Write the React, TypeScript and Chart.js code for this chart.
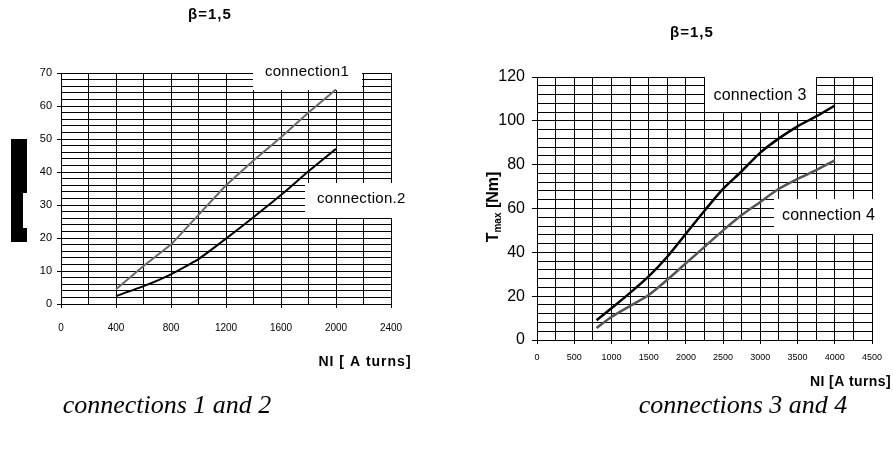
import React, { useEffect, useRef } from 'react';
import { Chart, registerables } from 'chart.js';

Chart.register(...registerables);

// ---- data ----
const niLeft = [400, 600, 800, 1000, 1200, 1400, 1600, 1800, 2000];
const connection1 = [4.5, 11.5, 18, 27, 36, 43.5, 50.5, 58, 65];
const connection2 = [2.4, 5.4, 9, 13.6, 19.8, 26.3, 33, 40.2, 47];

const niRight = [800, 1000, 1250, 1500, 1750, 2000, 2250, 2500, 2750, 3000, 3250, 3500, 3750, 4000];
const connection3 = [9, 14.5, 21.5, 29, 38, 48.5, 59, 69, 77, 85.5, 92, 97.5, 102, 107];
const connection4 = [5.5, 10.5, 15.5, 20.5, 27.5, 35, 42.5, 50, 57, 63, 69, 73.5, 77.5, 82];

const xLabelsLeft = [0, 400, 800, 1200, 1600, 2000, 2400];
const yLabelsLeft = [0, 10, 20, 30, 40, 50, 60, 70];
const xLabelsRight = [0, 500, 1000, 1500, 2000, 2500, 3000, 3500, 4000, 4500];
const yLabelsRight = [0, 20, 40, 60, 80, 100, 120];

const SANS = "'Liberation Sans', Arial, sans-serif";
const SERIF = "'Liberation Serif', 'Times New Roman', serif";

function pts(xs: number[], ys: number[]) {
  return xs.map((x, i) => ({ x, y: ys[i] }));
}

function tickCol(labels: number[]) {
  return (c: any) => (c.tick && labels.includes(c.tick.value) ? '#000' : 'rgba(0,0,0,0)');
}

function setSpacing(ctx: any, v: string) {
  try {
    ctx.letterSpacing = v;
  } catch (e) {
    /* ignore */
  }
}

function leftConfig(): any {
  const deco = {
    id: 'decoLeft',
    beforeDatasetsDraw(chart: any) {
      const ctx = chart.ctx;
      ctx.save();
      ctx.fillStyle = '#fff';
      ctx.fillRect(253, 62, 109, 28);
      ctx.fillRect(305, 183, 108, 35);
      ctx.fillStyle = '#000';
      ctx.textBaseline = 'middle';
      ctx.font = `15px ${SANS}`;
      setSpacing(ctx, '0.3px');
      ctx.textAlign = 'center';
      ctx.fillText('connection1', 307, 72);
      ctx.textAlign = 'left';
      ctx.fillText('connection.2', 317, 199);
      setSpacing(ctx, '0px');
      ctx.restore();
    },
    afterDraw(chart: any) {
      const ctx = chart.ctx;
      ctx.save();
      ctx.fillStyle = '#000';
      ctx.textBaseline = 'middle';
      ctx.textAlign = 'center';
      ctx.font = `bold 15px ${SANS}`;
      setSpacing(ctx, '1px');
      ctx.fillText('β=1,5', 210, 15);
      ctx.font = `bold 14px ${SANS}`;
      ctx.fillText('NI [ A turns]', 365, 362);
      setSpacing(ctx, '0px');
      ctx.font = `italic 26px ${SERIF}`;
      ctx.fillText('connections 1 and 2', 167, 406);
      // blacked-out axis title block
      ctx.fillRect(11, 139, 16, 54);
      ctx.fillRect(11, 192, 12, 37);
      ctx.fillRect(11, 228, 16, 14);
      ctx.restore();
    },
  };
  return {
    type: 'line',
    data: {
      datasets: [
        {
          label: 'connection1',
          data: pts(niLeft, connection1),
          borderColor: '#6a6a6a',
          borderWidth: 2,
          pointRadius: 0,
          tension: 0,
          fill: false,
        },
        {
          label: 'connection.2',
          data: pts(niLeft, connection2),
          borderColor: '#000',
          borderWidth: 2,
          pointRadius: 0,
          tension: 0.15,
          fill: false,
        },
      ],
    },
    options: {
      responsive: false,
      animation: false,
      layout: { padding: { top: 73, right: 55, left: 0, bottom: 0 } },
      plugins: { legend: { display: false }, tooltip: { enabled: false }, title: { display: false } },
      scales: {
        x: {
          type: 'linear',
          min: 0,
          max: 2400,
          afterFit: (s: any) => {
            s.height = 146;
          },
          ticks: {
            stepSize: 200,
            autoSkip: false,
            maxRotation: 0,
            padding: 14,
            color: '#000',
            font: { family: SANS, size: 10 },
            callback: (v: any) => (xLabelsLeft.includes(v) ? String(v) : ''),
          },
          grid: { color: '#000', lineWidth: 1, tickLength: 4, tickColor: tickCol(xLabelsLeft) },
          border: { color: '#000', width: 1 },
        },
        y: {
          type: 'linear',
          min: 0,
          max: 70,
          afterFit: (s: any) => {
            s.width = 61;
          },
          ticks: {
            stepSize: 2,
            autoSkip: false,
            padding: 5,
            color: '#000',
            font: { family: SANS, size: 11 },
            callback: (v: any) => (yLabelsLeft.includes(v) ? String(v) : ''),
          },
          grid: { color: '#000', lineWidth: 1, tickLength: 4, tickColor: tickCol(yLabelsLeft) },
          border: { color: '#000', width: 1 },
        },
      },
    },
    plugins: [deco],
  };
}

function rightConfig(): any {
  const OX = 446;
  const deco = {
    id: 'decoRight',
    beforeDatasetsDraw(chart: any) {
      const ctx = chart.ctx;
      ctx.save();
      ctx.fillStyle = '#fff';
      ctx.fillRect(705 - OX, 76, 111, 36);
      ctx.fillRect(774 - OX, 199, 110, 35);
      ctx.fillStyle = '#000';
      ctx.textBaseline = 'middle';
      ctx.font = `16px ${SANS}`;
      setSpacing(ctx, '0.2px');
      ctx.textAlign = 'center';
      ctx.fillText('connection 3', 760 - OX, 96);
      ctx.textAlign = 'left';
      ctx.fillText('connection 4', 782 - OX, 216);
      setSpacing(ctx, '0px');
      ctx.restore();
    },
    afterDraw(chart: any) {
      const ctx = chart.ctx;
      ctx.save();
      ctx.fillStyle = '#000';
      ctx.textBaseline = 'middle';
      ctx.textAlign = 'center';
      ctx.font = `bold 15px ${SANS}`;
      setSpacing(ctx, '1px');
      ctx.fillText('β=1,5', 692 - OX, 33);
      setSpacing(ctx, '0.4px');
      ctx.textAlign = 'right';
      ctx.font = `bold 14px ${SANS}`;
      ctx.fillText('NI [A turns]', 891 - OX, 382);
      setSpacing(ctx, '0px');
      ctx.textAlign = 'center';
      ctx.font = `italic 26px ${SERIF}`;
      ctx.fillText('connections 3 and 4', 743 - OX, 406);
      // rotated y title
      ctx.translate(492 - OX, 207);
      ctx.rotate(-Math.PI / 2);
      ctx.textAlign = 'left';
      ctx.textBaseline = 'alphabetic';
      const big = `bold 16px ${SANS}`;
      const small = `bold 10px ${SANS}`;
      ctx.font = big;
      const wT = ctx.measureText('T').width;
      const wRest = ctx.measureText(' [Nm]').width;
      ctx.font = small;
      const wSub = ctx.measureText('max').width;
      const total = wT + wSub + wRest;
      let x = -total / 2;
      const base = 6;
      ctx.font = big;
      ctx.fillText('T', x, base);
      x += wT;
      ctx.font = small;
      ctx.fillText('max', x, base + 3);
      x += wSub;
      ctx.font = big;
      ctx.fillText(' [Nm]', x, base);
      ctx.restore();
    },
  };
  return {
    type: 'line',
    data: {
      datasets: [
        {
          label: 'connection 3',
          data: pts(niRight, connection3),
          borderColor: '#000',
          borderWidth: 2.5,
          pointRadius: 0,
          tension: 0.3,
          fill: false,
        },
        {
          label: 'connection 4',
          data: pts(niRight, connection4),
          borderColor: '#555',
          borderWidth: 2.5,
          pointRadius: 0,
          tension: 0.3,
          fill: false,
        },
      ],
    },
    options: {
      responsive: false,
      animation: false,
      layout: { padding: { top: 77, right: 21, left: 0, bottom: 0 } },
      plugins: { legend: { display: false }, tooltip: { enabled: false }, title: { display: false } },
      scales: {
        x: {
          type: 'linear',
          min: 0,
          max: 4500,
          afterFit: (s: any) => {
            s.height = 110;
          },
          ticks: {
            stepSize: 250,
            autoSkip: false,
            maxRotation: 0,
            padding: 8,
            color: '#000',
            font: { family: SANS, size: 9 },
            callback: (v: any) => (xLabelsRight.includes(v) ? String(v) : ''),
          },
          grid: { color: '#000', lineWidth: 1, tickLength: 4, tickColor: tickCol(xLabelsRight) },
          border: { color: '#000', width: 1 },
        },
        y: {
          type: 'linear',
          min: 0,
          max: 120,
          afterFit: (s: any) => {
            s.width = 91;
          },
          ticks: {
            stepSize: 4,
            autoSkip: false,
            padding: 7,
            color: '#000',
            font: { family: SANS, size: 16 },
            callback: (v: any) => (yLabelsRight.includes(v) ? String(v) : ''),
          },
          grid: { color: '#000', lineWidth: 1, tickLength: 5, tickColor: tickCol(yLabelsRight) },
          border: { color: '#000', width: 1 },
        },
      },
    },
    plugins: [deco],
  };
}

function ChartBox({ left, width, makeConfig }: { left: number; width: number; makeConfig: () => any }) {
  const ref = useRef<HTMLCanvasElement>(null);
  useEffect(() => {
    const chart = new Chart(ref.current as HTMLCanvasElement, makeConfig());
    return () => chart.destroy();
  }, []);
  return (
    <div style={{ position: 'absolute', left, top: 0, width, height: 450 }}>
      <canvas ref={ref} width={width} height={450} style={{ width, height: 450, display: 'block' }} />
    </div>
  );
}

export default function App() {
  return (
    <div style={{ position: 'absolute', left: 0, top: 0, width: 893, height: 450, background: '#fff' }}>
      <ChartBox left={0} width={446} makeConfig={leftConfig} />
      <ChartBox left={446} width={447} makeConfig={rightConfig} />
    </div>
  );
}
